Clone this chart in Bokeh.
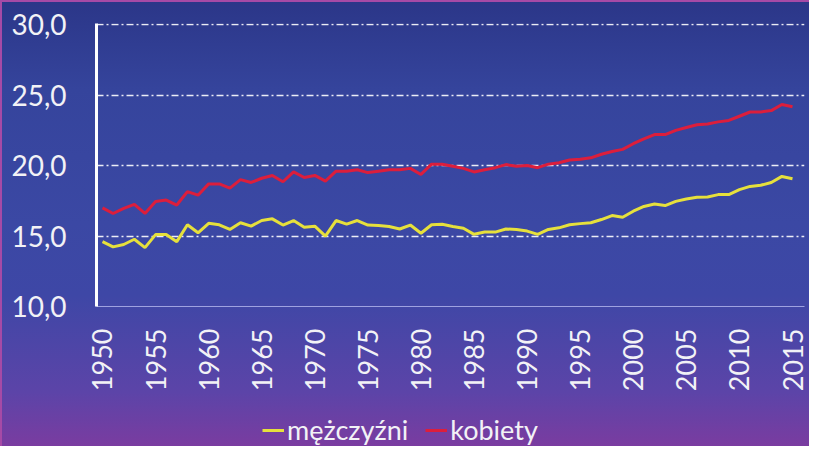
import math
from bokeh.plotting import figure
from bokeh.layouts import column
from bokeh.models import FixedTicker, ColumnDataSource, Legend, LegendItem
from bokeh.embed import file_html
from bokeh.resources import INLINE

years = list(range(1950, 2016))
men = [14.6, 14.23, 14.4, 14.77, 14.18, 15.1, 15.1, 14.6, 15.8, 15.23,
       15.9, 15.8, 15.47, 15.94, 15.7, 16.1, 16.22, 15.78, 16.1, 15.63,
       15.7, 15.0, 16.1, 15.85, 16.1, 15.78, 15.75, 15.68, 15.5, 15.78,
       15.2, 15.8, 15.83, 15.68, 15.55, 15.12, 15.28, 15.28, 15.5, 15.47,
       15.35, 15.12, 15.47, 15.58, 15.8, 15.88, 15.94, 16.17, 16.45, 16.33,
       16.76, 17.1, 17.27, 17.16, 17.46, 17.63, 17.75, 17.77, 17.94, 17.94,
       18.29, 18.52, 18.6, 18.8, 19.23, 19.06]
women = [17.0, 16.6, 16.96, 17.25, 16.6, 17.45, 17.55, 17.2, 18.15, 17.9,
         18.7, 18.7, 18.4, 19.0, 18.8, 19.1, 19.3, 18.85, 19.55, 19.15,
         19.3, 18.9, 19.6, 19.6, 19.7, 19.5, 19.6, 19.7, 19.7, 19.8,
         19.37, 20.1, 20.1, 19.95, 19.8, 19.55, 19.7, 19.85, 20.07, 19.95,
         20.0, 19.85, 20.1, 20.2, 20.4, 20.45, 20.55, 20.8, 21.0, 21.15,
         21.55, 21.9, 22.2, 22.2, 22.5, 22.7, 22.9, 22.95, 23.1, 23.2,
         23.5, 23.8, 23.8, 23.9, 24.33, 24.17]
x_ticks = list(range(1950, 2016, 5))
y_ticks = [10, 15, 20, 25, 30]
y_labels = ["10,0", "15,0", "20,0", "25,0", "30,0"]
series_names = ["mężczyźni", "kobiety"]
series_colors = ["#e6e03c", "#dc1e3c"]

FONT = "Lato"
TXT = "#f2f2f6"

p = figure(width=809, height=394, output_backend="svg", toolbar_location=None,
           x_range=(1949.435, 2016.13), y_range=(10, 30.08),
           min_border_left=96, min_border_right=5, min_border_top=23,
           min_border_bottom=87)
p.background_fill_color = None
p.border_fill_color = None
p.outline_line_color = None

src = ColumnDataSource(dict(year=years, men=men, women=women))
p.line("year", "men", source=src, line_color=series_colors[0], line_width=3)
p.line("year", "women", source=src, line_color=series_colors[1], line_width=3)

# axes
xa = p.xaxis[0]
xa.ticker = FixedTicker(ticks=x_ticks)
xa.major_label_orientation = math.pi / 2
xa.major_label_text_font = FONT
xa.major_label_text_font_size = "27px"
xa.major_label_text_color = TXT
xa.major_label_standoff = 22
xa.major_tick_line_color = None
xa.minor_tick_line_color = None
xa.major_tick_out = 0
xa.axis_line_color = "#9fa2e0"
xa.axis_line_width = 1

ya = p.yaxis[0]
ya.ticker = FixedTicker(ticks=y_ticks)
ya.major_label_overrides = {t: l for t, l in zip(y_ticks, y_labels)}
ya.major_label_text_font = FONT
ya.major_label_text_font_size = "28px"
ya.major_label_text_color = TXT
ya.major_label_standoff = 30
ya.major_tick_line_color = None
ya.minor_tick_line_color = None
ya.major_tick_out = 0
ya.axis_line_color = "white"
ya.axis_line_width = 3

p.xgrid.grid_line_color = None
p.ygrid.ticker = FixedTicker(ticks=y_ticks[1:])
p.ygrid.grid_line_color = "white"
p.ygrid.grid_line_alpha = 0.9
p.ygrid.grid_line_width = 1.5
p.ygrid.grid_line_dash = "7 3 2 3"

# legend strip below the chart (its lines lie outside its visible range)
lf = figure(width=809, height=52, output_backend="svg", toolbar_location=None,
            x_range=(0, 1), y_range=(0, 1), min_border=0,
            x_axis_location=None, y_axis_location=None)
lf.grid.visible = False
lf.background_fill_color = None
lf.border_fill_color = None
lf.outline_line_color = None
lr_men = lf.line("year", "men", source=src, line_color=series_colors[0], line_width=3)
lr_women = lf.line("year", "women", source=src, line_color=series_colors[1], line_width=3)
legend = Legend(items=[LegendItem(label=series_names[0], renderers=[lr_men]),
                       LegendItem(label=series_names[1], renderers=[lr_women])],
                orientation="horizontal", location=(166, 0),
                label_text_font=FONT, label_text_font_size="27px",
                label_text_color=TXT, glyph_width=22, label_standoff=3,
                spacing=17, padding=0, margin=0,
                background_fill_alpha=0, border_line_color=None)
lf.add_layout(legend, "center")

layout = column(p, lf, spacing=0)
layout.styles = {
    "background": "linear-gradient(to bottom, #2b3688 0%, #35449c 20%, #3b48a4 50%, #3e47a6 66%, #5c44a8 88%, #7a3ca0 100%)",
    "box-shadow": "inset 2px 2px 0 0 #a64aa6",
}

open("out.html", "w").write(file_html(layout, INLINE))
